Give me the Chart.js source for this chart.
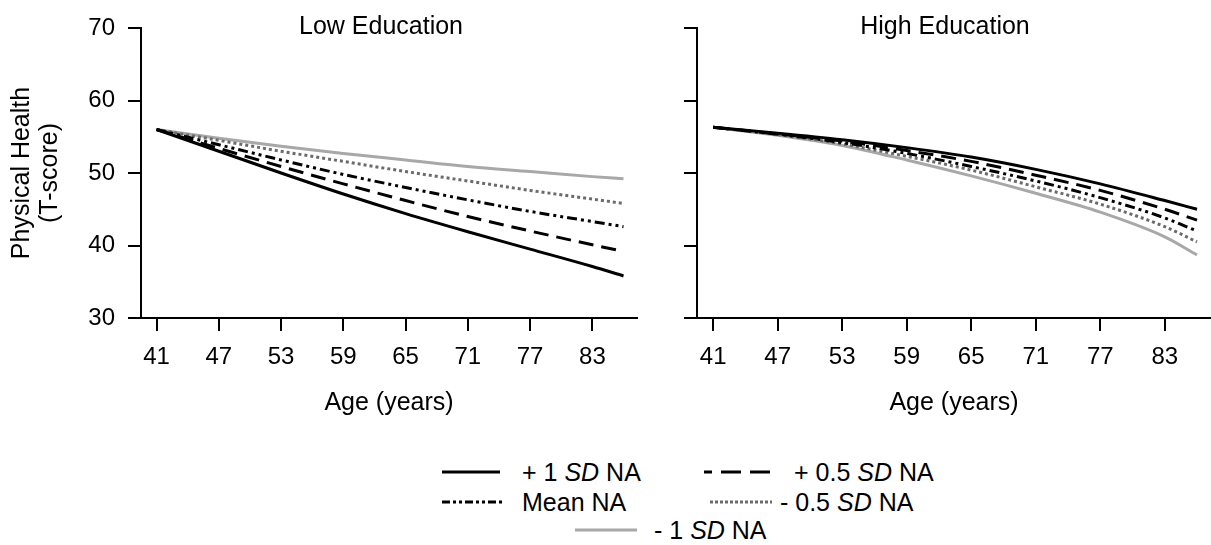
<!DOCTYPE html>
<html>
<head>
<meta charset="utf-8">
<script src="https://cdn.jsdelivr.net/npm/chart.js@4.4.1/dist/chart.umd.min.js"></script>
<style>
  body { margin: 0; background: #fff; width: 1211px; height: 545px; position: relative; overflow: hidden;
         font-family: "Liberation Sans", Arial, sans-serif; color: #000; }
  canvas { position: absolute; top: 0; }
  #lowChart { left: 0; }
  #highChart { left: 640px; }
  .key { position: absolute; height: 30px; font-size: 25px; white-space: nowrap; }
  .key svg { position: absolute; top: 0; left: 0; }
  .key span { position: absolute; top: 0; line-height: 30px; }
</style>
</head>
<body>
<canvas id="lowChart" width="650" height="430"></canvas>
<canvas id="highChart" width="571" height="430"></canvas>
<div id="legend"></div>
<script>
const ages = [41, 47, 53, 59, 65, 71, 77, 83, 86];
const xTicks = [41, 47, 53, 59, 65, 71, 77, 83];
const yTicks = [30, 40, 50, 60, 70];
const seriesNames = ["+ 1 SD NA", "+ 0.5 SD NA", "Mean NA", "- 0.5 SD NA", "- 1 SD NA"];

// Low Education panel
const lowPlus1  = [56, 53.0, 50.0, 47.1, 44.4, 41.9, 39.5, 37.1, 35.8];
const lowPlus05 = [56, 53.4, 50.9, 48.5, 46.2, 44.0, 42.0, 40.1, 39.2];
const lowMean   = [56, 53.9, 51.8, 49.8, 48.0, 46.3, 44.7, 43.3, 42.6];
const lowMinus05 = [56, 54.5, 53.0, 51.6, 50.2, 48.9, 47.6, 46.4, 45.8];
const lowMinus1 = [56, 54.8, 53.7, 52.7, 51.8, 50.9, 50.2, 49.5, 49.2];

// High Education panel
const highPlus1  = [56.3, 55.5, 54.6, 53.5, 52.2, 50.5, 48.5, 46.2, 45.0];
const highPlus05 = [56.3, 55.4, 54.4, 53.1, 51.6, 49.7, 47.6, 45.0, 43.5];
const highMean   = [56.3, 55.35, 54.2, 52.7, 50.9, 48.9, 46.6, 43.8, 42.0];
const highMinus05 = [56.3, 55.3, 54.0, 52.3, 50.4, 48.1, 45.7, 42.6, 40.5];
const highMinus1 = [56.3, 55.2, 53.8, 51.8, 49.6, 47.2, 44.6, 41.2, 38.7];

const FONT = '"Liberation Sans", Arial, sans-serif';
const lineStyles = [
  { color: "#000000", dash: [] },
  { color: "#000000", dash: [15, 8] },
  { color: "#000000", dash: [10, 4, 3, 4, 3, 4] },
  { color: "#6b6b6b", dash: [3, 3] },
  { color: "#a8a8a8", dash: [] }
];

function makeSets(cols) {
  return cols.map((vals, i) => ({
    label: seriesNames[i],
    data: vals.map((v, k) => ({ x: ages[k], y: v })),
    borderColor: lineStyles[i].color,
    borderDash: lineStyles[i].dash,
    borderWidth: 3,
    pointRadius: 0,
    cubicInterpolationMode: "monotone",
    fill: false
  }));
}

// panel heading drawn inside the top of the plot
const panelTitle = {
  id: "panelTitle",
  afterDraw(chart, args, opts) {
    const { ctx, chartArea } = chart;
    ctx.save();
    ctx.font = "25px " + FONT;
    ctx.fillStyle = "#000";
    ctx.textAlign = "center";
    ctx.textBaseline = "middle";
    ctx.fillText(opts.text, opts.cx, 27);
    ctx.restore();
  }
};

function makeChart(id, title, titleX, cols, showY, yWidth, padRight) {
  const axisGrid = { display: true, drawOnChartArea: false, drawTicks: true, tickLength: 13, color: "#000", lineWidth: 2 };
  return new Chart(document.getElementById(id), {
    type: "line",
    data: { datasets: makeSets(cols) },
    plugins: [panelTitle],
    options: {
      responsive: false,
      animation: false,
      layout: { padding: { top: 28, right: padRight, left: 0, bottom: 0 } },
      plugins: {
        legend: { display: false },
        tooltip: { enabled: false },
        panelTitle: { text: title, cx: titleX }
      },
      scales: {
        x: {
          type: "linear",
          min: 39.5,
          max: 87.3,
          afterBuildTicks: s => { s.ticks = xTicks.map(v => ({ value: v })); },
          afterFit: s => { s.height = 112; },
          border: { display: true, color: "#000", width: 2 },
          grid: axisGrid,
          ticks: { color: "#000", font: { size: 24, family: FONT }, padding: 12, maxRotation: 0, autoSkip: false },
          title: { display: true, text: "Age (years)", color: "#000", font: { size: 25, family: FONT }, padding: { bottom: 12 } }
        },
        y: {
          min: 30,
          max: 70,
          afterBuildTicks: s => { s.ticks = yTicks.map(v => ({ value: v })); },
          afterFit: s => { s.width = yWidth; },
          border: { display: true, color: "#000", width: 2 },
          grid: axisGrid,
          ticks: { display: showY, color: "#000", font: { size: 24, family: FONT }, padding: 13 },
          title: {
            display: showY,
            text: ["Physical Health", "(T-score)"],
            color: "#000",
            font: { size: 25, family: FONT, lineHeight: 1.12 },
            padding: { top: 8 }
          }
        }
      }
    }
  });
}

makeChart("lowChart", "Low Education", 381,
  [lowPlus1, lowPlus05, lowMean, lowMinus05, lowMinus1], true, 141, 13);
makeChart("highChart", "High Education", 305,
  [highPlus1, highPlus05, highMean, highMinus05, highMinus1], false, 57, 0);

// legend below the panels
const legendSpots = [
  { x: 442, y: 457, w: 58, gap: 22 },
  { x: 704, y: 457, w: 66, gap: 24 },
  { x: 442, y: 487, w: 61, gap: 19 },
  { x: 710, y: 487, w: 62, gap: 8 },
  { x: 575, y: 515, w: 62, gap: 17 }
];
const legendText = [
  "+ 1 <i>SD</i> NA", "+ 0.5 <i>SD</i> NA", "Mean NA", "- 0.5 <i>SD</i> NA", "- 1 <i>SD</i> NA"
];
const legendDash = ["", "20 9", "8 3 3 3 3 3", "3 2", ""];
const legendOffset = [0, 12, 0, 0, 0];
const legendBox = document.getElementById("legend");
legendSpots.forEach((p, i) => {
  const d = document.createElement("div");
  d.className = "key";
  d.style.left = p.x + "px";
  d.style.top = p.y + "px";
  d.innerHTML =
    '<svg width="' + p.w + '" height="30"><line x1="0" y1="15" x2="' + p.w + '" y2="15" stroke="' +
    lineStyles[i].color + '" stroke-width="3" stroke-dasharray="' + legendDash[i] +
    '" stroke-dashoffset="' + legendOffset[i] + '"/></svg>' +
    '<span style="left:' + (p.w + p.gap) + 'px">' + legendText[i] + '</span>';
  legendBox.appendChild(d);
});
</script>
</body>
</html>
